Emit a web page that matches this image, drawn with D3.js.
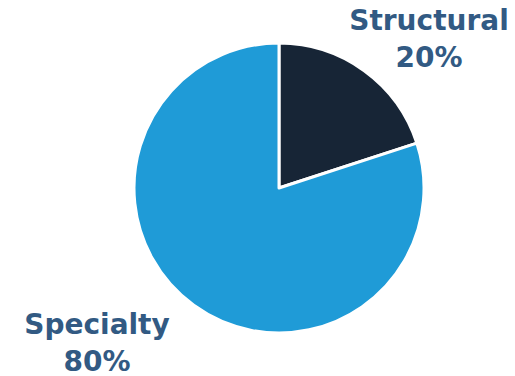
<!DOCTYPE html>
<html>
<head>
<meta charset="utf-8">
<script src="https://cdn.jsdelivr.net/npm/d3@7"></script>
<style>
  body { margin: 0; background: #fff; }
  .lbl { font-family: "DejaVu Sans", Verdana, sans-serif; font-weight: bold; fill: #325a83; }
</style>
</head>
<body>
<div id="chart"></div>
<script>
// data
var categories = ["Structural", "Specialty"];
var shares = [20, 80];
var colors = ["#172536", "#1f9bd7"];

var width = 515, height = 376;
var cx = 279, cy = 188, radius = 145;

var svg = d3.select("#chart").append("svg")
    .attr("width", width)
    .attr("height", height);

var g = svg.append("g")
    .attr("transform", `translate(${cx}, ${cy})`);

var pie = d3.pie().sort(null).value(d => d);
var arc = d3.arc().innerRadius(0).outerRadius(radius);

g.selectAll("path")
    .data(pie(shares))
    .enter()
    .append("path")
    .attr("d", arc)
    .attr("fill", (d, i) => colors[i])
    .attr("stroke", "#fff")
    .attr("stroke-width", 3)
    .attr("stroke-linejoin", "round");

// labels placed outside the pie
var labelPos = [[429, 30], [97, 334]];
categories.forEach(function(c, i) {
    var t = svg.append("text")
        .attr("class", "lbl")
        .attr("text-anchor", "middle")
        .attr("x", labelPos[i][0])
        .attr("y", labelPos[i][1])
        .style("font-size", "28px");
    t.append("tspan").text(c);
    t.append("tspan")
        .attr("x", labelPos[i][0])
        .attr("dy", 37)
        .text(shares[i] + "%");
});
</script>
</body>
</html>
